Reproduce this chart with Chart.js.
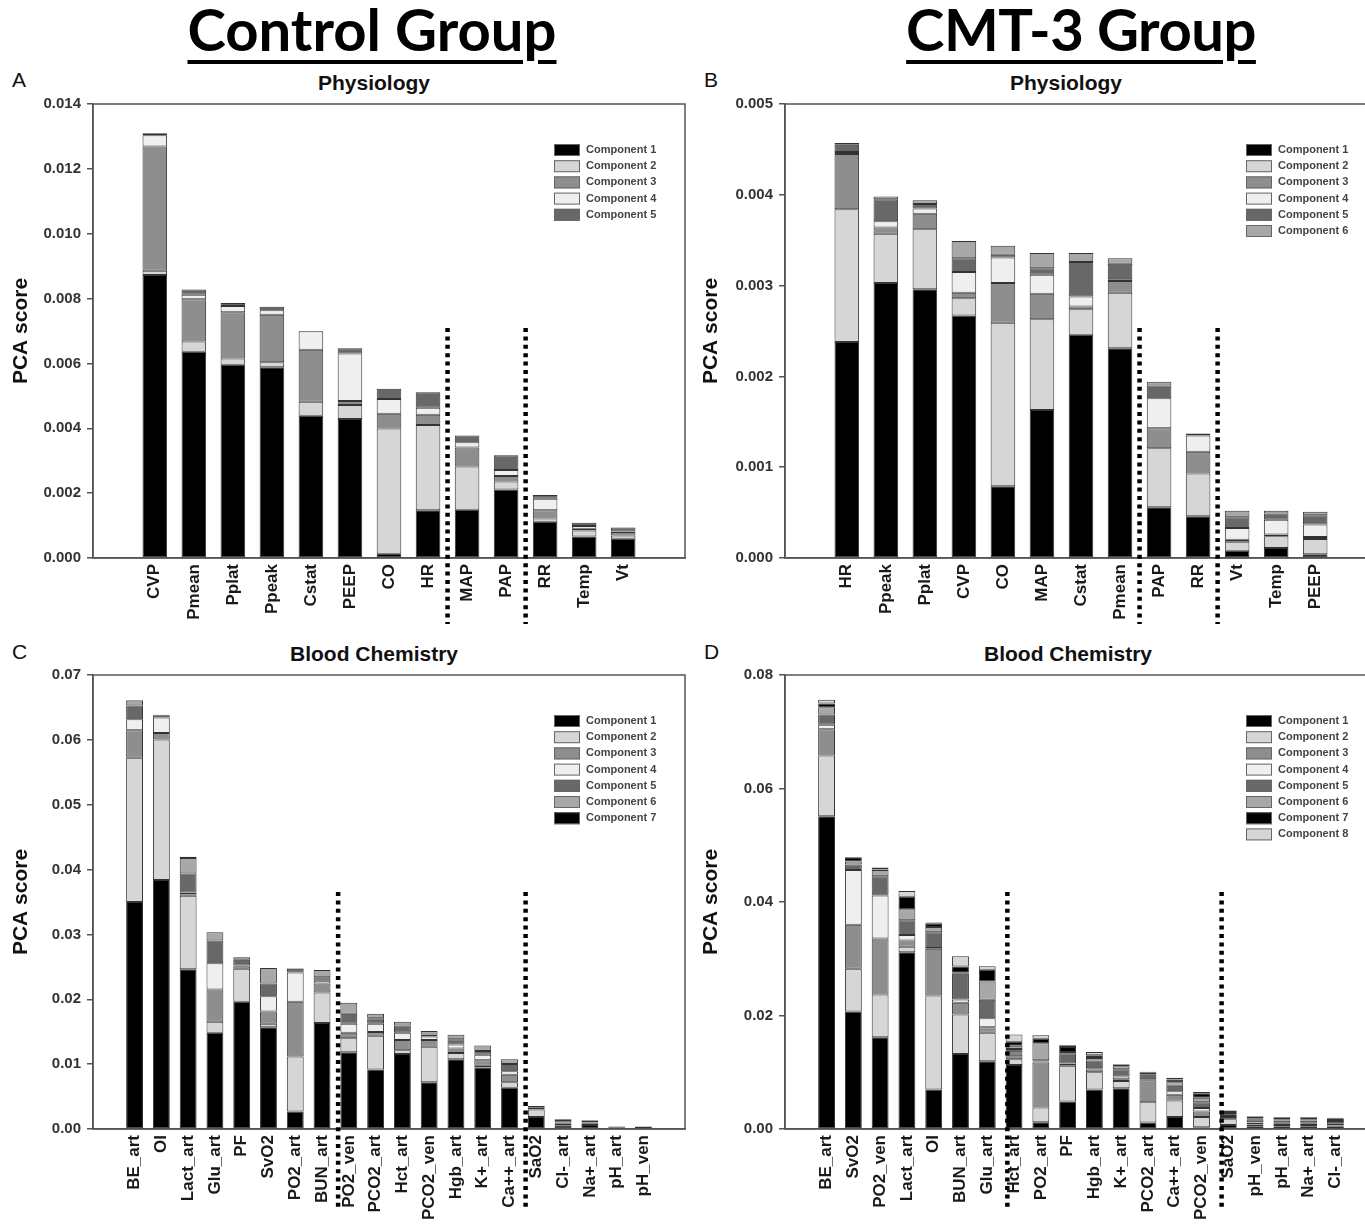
<!DOCTYPE html>
<html>
<head>
<meta charset="utf-8">
<script src="https://cdn.jsdelivr.net/npm/chart.js@4.4.1/dist/chart.umd.min.js"></script>
<style>
  body { margin: 0; width: 1365px; height: 1232px; overflow: hidden; background: #fff; position: relative; font-family: "Liberation Sans", Arial, sans-serif; }
  canvas { position: absolute; }
  .grp { position: absolute; top: -6px; font-family: Lato, sans-serif; font-weight: 700; font-size: 58px; color: #000;
         text-decoration: underline; text-decoration-thickness: 4px; text-underline-offset: 9px; transform: translateX(-50%); white-space: nowrap; }
  .letter { position: absolute; font-size: 21px; color: #111; }
  .sub { position: absolute; font-weight: bold; font-size: 21px; color: #111; transform: translate(-50%, -50%); white-space: nowrap; }
</style>
</head>
<body>
<div class="grp" style="left:372px">Control Group</div>
<div class="grp" style="left:1081px;letter-spacing:-0.5px">CMT-3 Group</div>
<div class="letter" style="left:12px;top:68px">A</div>
<div class="letter" style="left:704px;top:68px">B</div>
<div class="letter" style="left:12px;top:640px">C</div>
<div class="letter" style="left:704px;top:640px">D</div>
<div class="sub" style="left:374px;top:83px">Physiology</div>
<div class="sub" style="left:1066px;top:83px">Physiology</div>
<div class="sub" style="left:374px;top:654px">Blood Chemistry</div>
<div class="sub" style="left:1068px;top:654px">Blood Chemistry</div>

<canvas id="chartA" width="690" height="580" style="left:0;top:60px"></canvas>
<canvas id="chartB" width="687" height="580" style="left:690px;top:60px"></canvas>
<canvas id="chartC" width="690" height="602" style="left:0;top:630px"></canvas>
<canvas id="chartD" width="687" height="602" style="left:690px;top:630px"></canvas>

<script>
// A - control group, physiology
const ctlPhysLabels = ['CVP', 'Pmean', 'Pplat', 'Ppeak', 'Cstat', 'PEEP', 'CO', 'HR', 'MAP', 'PAP', 'RR', 'Temp', 'Vt'];
const ctlPhys1 = [0.00873, 0.00636, 0.00596, 0.00588, 0.00439, 0.00429, 0.00013, 0.00147, 0.00149, 0.00211, 0.00112, 0.00066, 0.00059];
const ctlPhys2 = [0.00013, 0.00032, 0.00019, 0.00016, 0.00043, 0.00043, 0.00386, 0.00263, 0.00133, 0.00025, 0.0001, 0.00019, 0.0001];
const ctlPhys3 = [0.00383, 0.0013, 0.00143, 0.00146, 0.0016, 0.00012, 0.00046, 0.00032, 0.00059, 0.00017, 0.00025, 0.00005, 0.00011];
const ctlPhys4 = [0.00035, 0.00014, 0.00019, 0.00014, 0.00057, 0.00147, 0.00045, 0.00021, 0.00016, 0.00018, 0.00036, 0.00009, 0.00002];
const ctlPhys5 = [0.00006, 0.00016, 0.00009, 0.00011, 0.00001, 0.00016, 0.00032, 0.00048, 0.00021, 0.00046, 0.00011, 0.0001, 0.00012];

// B - CMT-3 group, physiology
const cmtPhysLabels = ['HR', 'Ppeak', 'Pplat', 'CVP', 'CO', 'MAP', 'Cstat', 'Pmean', 'PAP', 'RR', 'Vt', 'Temp', 'PEEP'];
const cmtPhys1 = [0.00238, 0.00303, 0.00296, 0.00267, 0.00079, 0.00163, 0.00246, 0.00231, 0.00056, 0.00046, 0.00008, 0.00011, 0.00004];
const cmtPhys2 = [0.00146, 0.00054, 0.00066, 0.00019, 0.0018, 0.001, 0.00028, 0.00061, 0.00065, 0.00047, 0.0001, 0.00013, 0.00017];
const cmtPhys3 = [0.00061, 0.00007, 0.00017, 0.00006, 0.00044, 0.00028, 0.00003, 0.00013, 0.00022, 0.00024, 0.00002, 0.00002, 0.00002];
const cmtPhys4 = [0.00002, 0.00007, 0.00006, 0.00023, 0.00028, 0.00021, 0.00011, 0.00002, 0.00033, 0.00018, 0.00013, 0.00016, 0.00014];
const cmtPhys5 = [0.00008, 0.00024, 0.00005, 0.00015, 0.00003, 0.00007, 0.00038, 0.00017, 0.00014, 0.00002, 0.00012, 0.00007, 0.0001];
const cmtPhys6 = [0.00002, 0.00003, 0.00004, 0.00019, 0.0001, 0.00017, 0.0001, 0.00006, 0.00004, 0, 0.00007, 0.00003, 0.00004];

// C - control group, blood chemistry
const ctlBloodLabels = ['BE_art', 'OI', 'Lact_art', 'Glu_art', 'PF', 'SvO2', 'PO2_art', 'BUN_art', 'PO2_ven', 'PCO2_art',
  'Hct_art', 'PCO2_ven', 'Hgb_art', 'K+_art', 'Ca++_art', 'SaO2', 'Cl-_art', 'Na+_art', 'pH_art', 'pH_ven'];
const ctlBlood1 = [0.035, 0.0384, 0.02465, 0.01483, 0.01963, 0.01568, 0.00271, 0.01636, 0.01184, 0.00919, 0.01156, 0.00722, 0.01077, 0.00948, 0.00637, 0.00186, 0.0005, 0.0006, 0.0001, 0.0003];
const ctlBlood2 = [0.02225, 0.02166, 0.01133, 0.0017, 0.00507, 0.00056, 0.00846, 0.00468, 0.00215, 0.00519, 0.00057, 0.00547, 0.00096, 0.00028, 0.00085, 0.00113, 0.0003, 0.0002, 0.0001, 0];
const ctlBlood3 = [0.00423, 0.00101, 0.0004, 0.00496, 0.0004, 0.00186, 0.00846, 0.00141, 0.00084, 0.00056, 0.00158, 0.00102, 0.00068, 0.00085, 0.00113, 0.00028, 0.0002, 0.0002, 0.0001, 0];
const ctlBlood4 = [0.00169, 0.00237, 0.0001, 0.00406, 0.0001, 0.00237, 0.00451, 0.0004, 0.00141, 0.0013, 0.00112, 0.00056, 0.00062, 0.00085, 0.00056, 0, 0, 0, 0, 0];
const ctlBlood5 = [0.00214, 0.00034, 0.0029, 0.0035, 0.0009, 0.00198, 0.00056, 0.00056, 0.00153, 0.00085, 0.00113, 0.0003, 0.00079, 0.00056, 0.00113, 0.00028, 0.0004, 0.0003, 0.0001, 0.0001];
const ctlBlood6 = [0.00074, 0.0001, 0.0024, 0.00129, 0.0004, 0.00237, 0.0001, 0.00112, 0.00169, 0.00068, 0.00057, 0.00055, 0.00073, 0.00085, 0.00073, 0, 0.0001, 0.0001, 0, 0];
const ctlBlood7 = [0.0001, 0, 0.0002, 0, 0, 0, 0, 0, 0, 0, 0, 0, 0, 0, 0, 0, 0, 0, 0, 0];

// D - CMT-3 group, blood chemistry
const cmtBloodLabels = ['BE_art', 'SvO2', 'PO2_ven', 'Lact_art', 'OI', 'BUN_art', 'Glu_art', 'Hct_art', 'PO2_art', 'PF',
  'Hgb_art', 'K+_art', 'PCO2_art', 'Ca++_art', 'PCO2_ven', 'SaO2', 'pH_ven', 'pH_art', 'Na+_art', 'Cl-_art'];
const cmtBlood1 = [0.05512, 0.02069, 0.01618, 0.03114, 0.00696, 0.01322, 0.01193, 0.01128, 0.0012, 0.00483, 0.00696, 0.00716, 0.00116, 0.00213, 0.0003, 0.0007, 0.0005, 0.0004, 0.0005, 0.0004];
const cmtBlood2 = [0.0107, 0.00755, 0.00754, 0.00096, 0.01657, 0.00696, 0.00502, 0.00103, 0.0026, 0.00632, 0.00303, 0.00129, 0.00355, 0.0029, 0.0018, 0.001, 0.0003, 0.0003, 0.0002, 0.0002];
const cmtBlood3 = [0.00464, 0.00773, 0.00987, 0.0011, 0.00825, 0.00206, 0.00097, 0.00077, 0.0079, 0.0003, 0.0005, 0.0003, 0.00387, 0.001, 0.001, 0.0004, 0.0003, 0.0003, 0.0003, 0.0003];
const cmtBlood4 = [0.00077, 0.00967, 0.00754, 0.001, 0.0001, 0.0006, 0.00161, 0.0002, 0.0002, 0.0001, 0.0002, 0.0005, 0.0002, 0.0006, 0.0006, 0.0002, 0.0001, 0.0001, 0.0001, 0.0001];
const cmtBlood5 = [0.00181, 0.00097, 0.00342, 0.00258, 0.0028, 0.0045, 0.00323, 0.0008, 0.0002, 0.0018, 0.0014, 0.0013, 0.0008, 0.001, 0.001, 0.0005, 0.0005, 0.0004, 0.0004, 0.0004];
const cmtBlood6 = [0.00129, 0.00052, 0.00109, 0.00193, 0.0009, 0.0002, 0.00322, 0.0006, 0.003, 0.0002, 0.0004, 0.0005, 0.0003, 0.0006, 0.0008, 0.0002, 0.0002, 0.0002, 0.0002, 0.0002];
const cmtBlood7 = [0.00065, 0.00064, 0.0001, 0.0022, 0.0006, 0.00109, 0.00206, 0.0007, 0.0008, 0.0009, 0.0005, 0.0003, 0.0001, 0.0005, 0.0008, 0.0002, 0.0003, 0.0003, 0.0003, 0.0003];
const cmtBlood8 = [0.00064, 0.0001, 0.00036, 0.00103, 0.0002, 0.0018, 0.00065, 0.00129, 0.0006, 0.0003, 0.0006, 0.0001, 0.0001, 0.0003, 0.0002, 0.0001, 0.0001, 0.0001, 0.0001, 0.0001];

const compColors = ['#000000', '#d6d6d6', '#8e8e8e', '#efefef', '#686868', '#a8a8a8', '#000000', '#d6d6d6'];
const FONT = 'Liberation Sans';

// box around the plot area
const framePlugin = {
  id: 'frame',
  afterDatasetsDraw(chart) {
    const { ctx, chartArea: a } = chart;
    ctx.save();
    ctx.strokeStyle = '#555';
    ctx.lineWidth = 1.5;
    ctx.strokeRect(a.left, a.top, a.right - a.left, a.bottom - a.top);
    ctx.restore();
  }
};

// thick dotted separators between groups of variables
const dividerPlugin = {
  id: 'dividers',
  afterDraw(chart, args, opts) {
    const { ctx, chartArea: a } = chart;
    const xs = chart.scales.x;
    ctx.save();
    ctx.strokeStyle = '#000';
    ctx.lineWidth = 4.5;
    ctx.setLineDash([4, 4.4]);
    opts.at.forEach(v => {
      const x = xs.getPixelForValue(v);
      ctx.beginPath();
      ctx.moveTo(x, a.top + opts.top);
      ctx.lineTo(x, a.bottom + opts.below);
      ctx.stroke();
    });
    ctx.restore();
  }
};

// component legend inside the plot
const compLegendPlugin = {
  id: 'compLegend',
  afterDraw(chart, args, opts) {
    const { ctx, chartArea: a } = chart;
    ctx.save();
    ctx.font = 'bold 11px "' + FONT + '"';
    ctx.textBaseline = 'middle';
    chart.data.datasets.forEach((ds, k) => {
      const x = a.left + opts.dx;
      const y = a.top + opts.dy + k * opts.step;
      ctx.fillStyle = ds.backgroundColor;
      ctx.fillRect(x, y - 6, 26, 12);
      ctx.strokeStyle = '#666';
      ctx.lineWidth = 1;
      ctx.strokeRect(x + 0.5, y - 5.5, 25, 11);
      ctx.fillStyle = '#444';
      ctx.fillText(ds.label, x + 32, y);
    });
    ctx.restore();
  }
};

function makePanel(id, labels, series, cfg) {
  const datasets = series.map((vals, k) => ({
    label: 'Component ' + (k + 1),
    data: vals.map((v, i) => ({ x: i, y: v })),
    backgroundColor: compColors[k],
    borderColor: '#333',
    borderWidth: 1,
    borderSkipped: false,
    barPercentage: 0.63,
    categoryPercentage: 1
  }));

  return new Chart(document.getElementById(id), {
    type: 'bar',
    data: { datasets: datasets },
    options: {
      responsive: false,
      animation: false,
      layout: { padding: { top: cfg.padTop, right: cfg.padRight, left: 0, bottom: 0 } },
      plugins: {
        legend: { display: false },
        tooltip: { enabled: false },
        dividers: { at: cfg.dividers, top: cfg.divTop, below: cfg.divBelow },
        compLegend: { dx: 461, dy: 46, step: 16.2 }
      },
      scales: {
        x: {
          type: 'linear',
          stacked: true,
          min: -1,
          max: cfg.xMax,
          afterBuildTicks: s => { s.ticks = labels.map((_, i) => ({ value: i })); },
          afterFit: s => { s.height = cfg.xHeight; },
          grid: { display: false, drawTicks: false },
          border: { display: true, color: '#555', width: 1.5 },
          ticks: {
            autoSkip: false,
            maxRotation: 90,
            minRotation: 90,
            padding: 6,
            color: '#1a1a1a',
            font: { family: FONT, size: 17, weight: 'bold' },
            callback: v => labels[v]
          }
        },
        y: {
          stacked: true,
          min: 0,
          max: cfg.yMax,
          afterFit: s => { s.width = cfg.yWidth; },
          grid: { drawOnChartArea: false, tickLength: 6, color: '#555', lineWidth: 1.5 },
          border: { color: '#555', width: 1.5 },
          ticks: {
            stepSize: cfg.yStep,
            padding: 6,
            color: '#333',
            font: { family: FONT, size: 15, weight: 'bold' },
            callback: v => v.toFixed(cfg.dec)
          },
          title: {
            display: true,
            text: 'PCA score',
            color: '#111',
            padding: { top: 9, bottom: 0 },
            font: { family: FONT, size: 21, weight: 'bold' }
          }
        }
      }
    },
    plugins: [framePlugin, dividerPlugin, compLegendPlugin]
  });
}

makePanel('chartA', ctlPhysLabels, [ctlPhys1, ctlPhys2, ctlPhys3, ctlPhys4, ctlPhys5], {
  padTop: 44, padRight: 5, yWidth: 93, xHeight: 82, xMax: 13,
  yMax: 0.014, yStep: 0.002, dec: 3, dividers: [7.5, 9.5], divTop: 224, divBelow: 66
});
makePanel('chartB', cmtPhysLabels, [cmtPhys1, cmtPhys2, cmtPhys3, cmtPhys4, cmtPhys5, cmtPhys6], {
  padTop: 44, padRight: 0, yWidth: 95, xHeight: 82, xMax: 13,
  yMax: 0.005, yStep: 0.001, dec: 3, dividers: [7.5, 9.5], divTop: 224, divBelow: 66
});
makePanel('chartC', ctlBloodLabels, [ctlBlood1, ctlBlood2, ctlBlood3, ctlBlood4, ctlBlood5, ctlBlood6, ctlBlood7], {
  padTop: 45, padRight: 5, yWidth: 93, xHeight: 103, xMax: 20,
  yMax: 0.07, yStep: 0.01, dec: 2, dividers: [7.6, 14.6], divTop: 217, divBelow: 80
});
makePanel('chartD', cmtBloodLabels, [cmtBlood1, cmtBlood2, cmtBlood3, cmtBlood4, cmtBlood5, cmtBlood6, cmtBlood7, cmtBlood8], {
  padTop: 45, padRight: 0, yWidth: 95, xHeight: 103, xMax: 20,
  yMax: 0.08, yStep: 0.02, dec: 2, dividers: [6.75, 14.75], divTop: 217, divBelow: 80
});
</script>
</body>
</html>
